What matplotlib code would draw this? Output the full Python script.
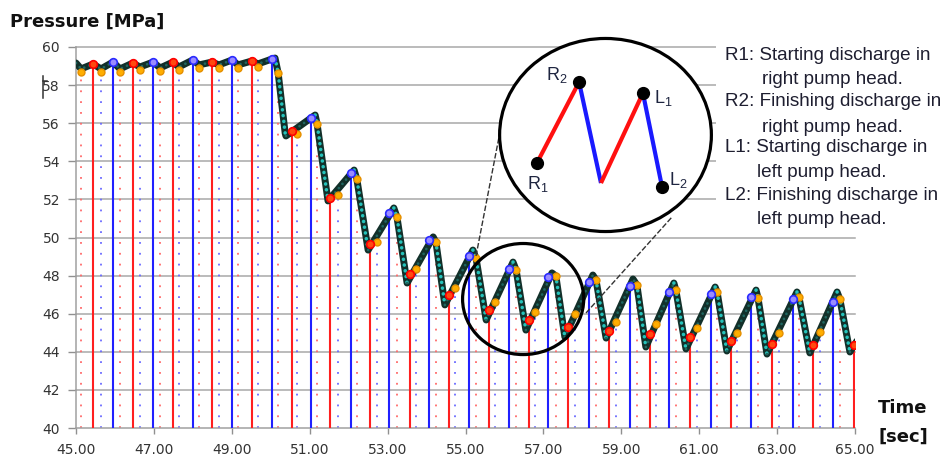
import matplotlib
matplotlib.use("Agg")
import matplotlib.pyplot as plt
from matplotlib.patches import Ellipse, Rectangle
from matplotlib.lines import Line2D

# pressure trace vertices (time [s], pressure [MPa])
curve_t = [45.00, 45.13, 45.44, 45.64, 45.95, 46.13, 46.46, 46.64, 46.98, 47.16,
           47.49, 47.64, 48.00, 48.16, 48.49, 48.67, 49.01, 49.16, 49.52, 49.67,
           50.03, 50.11, 50.19, 50.37, 50.39,
           51.14, 51.19, 51.47, 52.14, 52.21, 52.50, 53.16, 53.24, 53.50,
           54.17, 54.24, 54.47, 55.19, 55.27, 55.53, 56.22, 56.30, 56.55,
           57.22, 57.32, 57.55, 58.27, 58.35, 58.61, 59.30, 59.40, 59.63,
           60.35, 60.40, 60.66, 61.41, 61.46, 61.71, 62.46, 62.51, 62.74,
           63.51, 63.56, 63.84, 64.54, 64.61, 64.87, 65.05]
curve_p = [59.16, 58.85, 59.11, 58.85, 59.21, 58.85, 59.16, 58.95, 59.21, 58.90,
           59.21, 58.95, 59.32, 59.06, 59.21, 59.06, 59.32, 59.06, 59.27, 59.11,
           59.37, 59.42, 58.64, 55.48, 55.33,
           56.43, 55.96, 51.92, 53.54, 53.07, 49.34, 51.55, 51.08, 47.61,
           50.03, 49.76, 46.46, 49.34, 48.92, 45.67, 48.71, 48.29, 45.14,
           48.14, 47.98, 44.78, 48.03, 47.77, 44.72, 47.82, 47.51, 44.25,
           47.61, 47.24, 44.15, 47.40, 47.14, 44.04, 47.24, 46.82, 43.88,
           47.14, 46.88, 43.94, 47.14, 46.77, 43.99, 44.57]

# R1 / start-of-stroke markers (red)
red_t = [45.44, 46.46, 47.49, 48.49, 49.52, 50.55, 51.52, 52.55, 53.58, 54.58,
         55.60, 56.63, 57.63, 58.68, 59.74, 60.76, 61.82, 62.87, 63.92, 64.97]
red_p = [59.11, 59.16, 59.21, 59.21, 59.27, 55.59, 52.07, 49.66, 48.08, 46.98,
         46.19, 45.67, 45.30, 45.09, 44.93, 44.78, 44.57, 44.41, 44.36, 44.36]

# blue markers
blue_t = [45.95, 46.98, 48.00, 49.01, 50.03, 51.03, 52.06, 53.04, 54.06, 55.09,
          56.12, 57.12, 58.17, 59.22, 60.22, 61.30, 62.33, 63.41, 64.43]
blue_p = [59.21, 59.21, 59.32, 59.32, 59.37, 56.27, 53.39, 51.29, 49.87, 49.03,
          48.35, 47.93, 47.66, 47.45, 47.14, 47.03, 46.88, 46.77, 46.61]

# orange markers (dotted drop lines, alternating red / blue)
orange_t = [45.13, 45.64, 46.13, 46.64, 47.16, 47.64, 48.16, 48.67, 49.16, 49.67,
            50.19, 50.67, 51.19, 51.73, 52.21, 52.73, 53.24, 53.73, 54.24, 54.73,
            55.27, 55.76, 56.30, 56.78, 57.32, 57.81, 58.35, 58.86, 59.40, 59.89,
            60.40, 60.94, 61.46, 61.97, 62.51, 63.05, 63.56, 64.10, 64.61]
orange_p = [58.69, 58.69, 58.69, 58.79, 58.74, 58.79, 58.90, 58.90, 58.90, 58.95,
            58.64, 55.43, 55.96, 52.23, 53.07, 49.76, 51.08, 48.35, 49.76, 47.35,
            48.92, 46.61, 48.29, 46.09, 47.98, 45.98, 47.77, 45.56, 47.51, 45.46,
            47.24, 45.25, 47.14, 45.01, 46.82, 45.01, 46.88, 45.04, 46.77]

xticks = [45, 47, 49, 51, 53, 55, 57, 59, 61, 63, 65]
xticklabels = ["%.2f" % v for v in xticks]
yticks = [40, 42, 44, 46, 48, 50, 52, 54, 56, 58, 60]

# zoom-circle schematic (inset axes coordinates)
zig_x = [0.181, 0.377, 0.479, 0.674, 0.763]
zig_y = [0.357, 0.770, 0.255, 0.714, 0.235]
zig_colors = ["#ff1010", "#1a1aff", "#ff1010", "#1a1aff"]
zig_labels = [(r"$\mathregular{R_1}$", 0.186, 0.250),
              (r"$\mathregular{R_2}$", 0.272, 0.806),
              (r"$\mathregular{L_1}$", 0.770, 0.689),
              (r"$\mathregular{L_2}$", 0.840, 0.272)]

note_lines = ["R1: Starting discharge in", "right pump head.",
              "R2: Finishing discharge in", "right pump head.",
              "L1: Starting discharge in", "left pump head.",
              "L2: Finishing discharge in", "left pump head."]
note_x = [725, 762, 725, 762, 725, 757, 725, 757]
note_y = [55, 80, 102, 127, 148, 173, 195, 219]

W, H = 951, 458


def fx(px):
    return px / W


def fy(py):
    return 1 - py / H


fig = plt.figure(figsize=(W / 100, H / 100), dpi=100)
ax = fig.add_axes([fx(76), fy(428), (855 - 76) / W, (428 - 47) / H])
ax.set_xlim(45, 65)
ax.set_ylim(40, 60)

for y in yticks[1:]:
    ax.axhline(y, color="#a8a8a8", lw=1.1, zorder=1, clip_on=False)

# drop lines
ax.vlines(orange_t[0::2], 40, orange_p[0::2], colors="#ff6a6a",
          linestyles=(0, (1, 5)), lw=1.3, zorder=2)
ax.vlines(orange_t[1::2], 40, orange_p[1::2], colors="#6a6aff",
          linestyles=(0, (1, 5)), lw=1.3, zorder=2)
ax.vlines(red_t, 40, red_p, colors="#ff1f1f", lw=1.5, zorder=3)
ax.vlines(blue_t, 40, blue_p, colors="#2020ff", lw=1.5, zorder=3)

# pressure trace: dark band with teal sample dots
ax.plot(curve_t, curve_p, color="#12302a", lw=5.0, solid_capstyle="round",
        solid_joinstyle="round", zorder=5)
groups = []
for i in range(len(curve_t) - 1):
    slope = (curve_p[i + 1] - curve_p[i]) / (curve_t[i + 1] - curve_t[i])
    falling = slope < -5
    if groups and groups[-1][0] == falling:
        groups[-1][1].append(i + 1)
    else:
        groups.append([falling, [i, i + 1]])
for falling, idx in groups:
    tt = [curve_t[k] for k in idx]
    pp = [curve_p[k] for k in idx]
    if falling:
        ax.plot(tt, pp, color="#25c2ba", lw=2.6, linestyle=(0, (0.01, 1.6)),
                dash_capstyle="round", zorder=6)
    else:
        ax.plot(tt, pp, color="#1f6660", lw=2.0, linestyle=(0, (0.01, 2.0)),
                dash_capstyle="round", zorder=6)

ax.plot(orange_t, orange_p, "o", ms=5, mfc="#ffae00", mec="#e58f00", mew=1,
        zorder=7)
ax.plot(red_t, red_p, "o", ms=5.5, mfc="#ff4a10", mec="#ff0000", mew=1.2,
        zorder=8)
ax.plot(blue_t, blue_p, "o", ms=5.5, mfc="#9a8cff", mec="#2a2aff", mew=1.2,
        zorder=8)

# small zoom circle around one period
ax.add_patch(Ellipse((56.48, 46.77), 3.11, 5.83, fill=False, ec="black",
                     lw=2.3, zorder=9, clip_on=False))

for s in ["top", "right"]:
    ax.spines[s].set_visible(False)
for s in ["left", "bottom"]:
    ax.spines[s].set_color("#a0a0a0")
    ax.spines[s].set_linewidth(1.1)
ax.set_xticks(xticks)
ax.set_xticklabels(xticklabels)
ax.set_yticks(yticks)
ax.tick_params(axis="x", length=4, width=1, color="#909090", pad=7,
               labelsize=10, labelcolor="#333333")
ax.tick_params(axis="y", length=5.5, width=1, color="#909090", pad=6,
               labelsize=10, labelcolor="#333333")

fig.text(fx(10), fy(22), "Pressure [MPa]", fontsize=13, fontweight="bold",
         ha="left", va="center", color="#111111")
fig.text(fx(903), fy(408), "Time", fontsize=13, fontweight="bold",
         ha="center", va="center", color="#111111")
fig.text(fx(903), fy(437), "[sec]", fontsize=13, fontweight="bold",
         ha="center", va="center", color="#111111")

# stray mark next to the 58 label
fig.add_artist(Line2D([fx(43), fx(43)], [fy(76), fy(98)], color="#333333",
                      lw=1.1))
fig.add_artist(Line2D([fx(43), fx(47)], [fy(81), fy(81)], color="#333333",
                      lw=1.1))

# white box behind the notes
fig.add_artist(Rectangle((fx(716), fy(229)), (W - 716) / W, (229 - 38) / H,
                         transform=fig.transFigure, fc="white", ec="none",
                         zorder=1))
for txt, x, y in zip(note_lines, note_x, note_y):
    fig.text(fx(x), fy(y), txt, fontsize=13.6, family="Liberation Sans",
             ha="left", va="center", color="#1e1e30", zorder=4)

# dashed connectors between the circles
fig.add_artist(Line2D([fx(476), fx(499)], [fy(256), fy(137)], color="#333333",
                      lw=1.0, linestyle=(0, (4, 1.5)), zorder=2))
fig.add_artist(Line2D([fx(586), fx(672)], [fy(313), fy(217)], color="#333333",
                      lw=1.0, linestyle=(0, (4, 1.5)), zorder=2))

# big zoom circle with schematic
ax_in = fig.add_axes([fx(498), fy(233), 215 / W, 196 / H], zorder=3)
ax_in.set_xlim(0, 1)
ax_in.set_ylim(0, 1)
ax_in.axis("off")
ax_in.add_patch(Ellipse((0.5, 0.5), 0.985, 0.985, transform=ax_in.transAxes,
                        fc="white", ec="black", lw=2.3, clip_on=False))
for i, c in enumerate(zig_colors):
    ax_in.plot(zig_x[i:i + 2], zig_y[i:i + 2], color=c, lw=3.0,
               solid_capstyle="butt", zorder=3)
pts = [0, 1, 3, 4]
ax_in.plot([zig_x[k] for k in pts], [zig_y[k] for k in pts], "o", color="black",
           ms=8.5, zorder=4)
for txt, x, y in zig_labels:
    ax_in.text(x, y, txt, fontsize=13, family="Liberation Sans", ha="center",
               va="center", color="#1e2540")

fig.savefig("out.png", dpi=100)
